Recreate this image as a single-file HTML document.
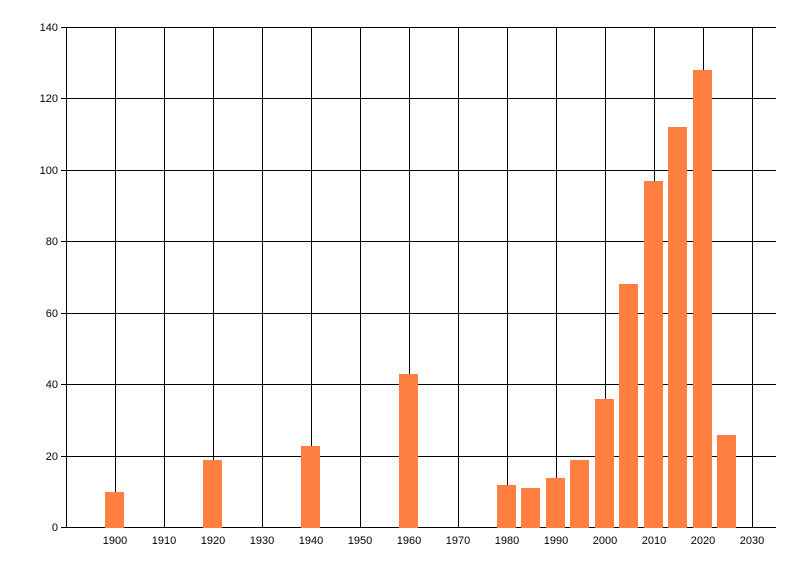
<!DOCTYPE html>
<html><head><style>body{margin:0;background:#fff}svg text{font-family:"Liberation Sans",sans-serif;font-size:11px;fill:#000}</style></head><body>
<svg width="800" height="576" xmlns="http://www.w3.org/2000/svg">
<g stroke="#000" stroke-width="1" shape-rendering="crispEdges">
<line x1="61" y1="27.5" x2="776" y2="27.5"/>
<line x1="61" y1="98.5" x2="776" y2="98.5"/>
<line x1="61" y1="170.5" x2="776" y2="170.5"/>
<line x1="61" y1="241.5" x2="776" y2="241.5"/>
<line x1="61" y1="313.5" x2="776" y2="313.5"/>
<line x1="61" y1="384.5" x2="776" y2="384.5"/>
<line x1="61" y1="456.5" x2="776" y2="456.5"/>
<line x1="61" y1="527.5" x2="776" y2="527.5"/>
<line x1="66.5" y1="27" x2="66.5" y2="528"/>
<line x1="115.5" y1="27" x2="115.5" y2="528"/>
<line x1="164.5" y1="27" x2="164.5" y2="528"/>
<line x1="213.5" y1="27" x2="213.5" y2="528"/>
<line x1="262.5" y1="27" x2="262.5" y2="528"/>
<line x1="311.5" y1="27" x2="311.5" y2="528"/>
<line x1="360.5" y1="27" x2="360.5" y2="528"/>
<line x1="409.5" y1="27" x2="409.5" y2="528"/>
<line x1="458.5" y1="27" x2="458.5" y2="528"/>
<line x1="507.5" y1="27" x2="507.5" y2="528"/>
<line x1="556.5" y1="27" x2="556.5" y2="528"/>
<line x1="605.5" y1="27" x2="605.5" y2="528"/>
<line x1="654.5" y1="27" x2="654.5" y2="528"/>
<line x1="703.5" y1="27" x2="703.5" y2="528"/>
<line x1="752.5" y1="27" x2="752.5" y2="528"/>
</g>
<g fill="#FF7F40">
<rect x="105" y="492" width="19" height="36"/>
<rect x="203" y="460" width="19" height="68"/>
<rect x="301" y="446" width="19" height="82"/>
<rect x="399" y="374" width="19" height="154"/>
<rect x="497" y="485" width="19" height="43"/>
<rect x="521" y="488" width="19" height="40"/>
<rect x="546" y="478" width="19" height="50"/>
<rect x="570" y="460" width="19" height="68"/>
<rect x="595" y="399" width="19" height="129"/>
<rect x="619" y="284" width="19" height="244"/>
<rect x="644" y="181" width="19" height="347"/>
<rect x="668" y="127" width="19" height="401"/>
<rect x="693" y="70" width="19" height="458"/>
<rect x="717" y="435" width="19" height="93"/>
</g>
<g text-anchor="end">
<text x="58" y="31">140</text><text x="58" y="102">120</text><text x="58" y="174">100</text><text x="58" y="245">80</text><text x="58" y="317">60</text><text x="58" y="388">40</text><text x="58" y="460">20</text><text x="58" y="531">0</text>
</g>
<g text-anchor="middle">
<text x="115" y="544">1900</text><text x="164" y="544">1910</text><text x="213" y="544">1920</text><text x="262" y="544">1930</text><text x="311" y="544">1940</text><text x="360" y="544">1950</text><text x="409" y="544">1960</text><text x="458" y="544">1970</text><text x="507" y="544">1980</text><text x="556" y="544">1990</text><text x="605" y="544">2000</text><text x="654" y="544">2010</text><text x="703" y="544">2020</text><text x="752" y="544">2030</text>
</g>
</svg>
</body></html>
